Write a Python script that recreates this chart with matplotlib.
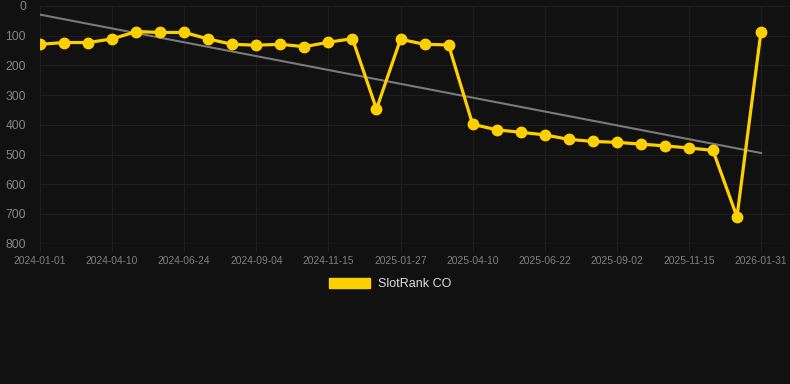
import matplotlib
matplotlib.use("Agg")
import matplotlib.pyplot as plt
from matplotlib.patches import Patch
import numpy as np

plt.rcParams['font.family'] = ['Liberation Sans', 'DejaVu Sans']

ranks = [129, 123, 123, 111, 86, 89, 89, 111, 129, 132,
         129, 137, 122, 110, 347, 112, 129, 131, 398, 417,
         425, 434, 449, 456, 459, 465, 471, 478, 486, 710, 86]
tick_labels = ["2024-01-01", "2024-04-10", "2024-06-24", "2024-09-04",
               "2024-11-15", "2025-01-27", "2025-04-10", "2025-06-22",
               "2025-09-02", "2025-11-15", "2026-01-31"]
trend_ends = [29, 495]
series_name = "SlotRank CO"
y_ticks = [0, 100, 200, 300, 400, 500, 600, 700, 800]

W, H = 790, 384
bg = "#111111"
grid_c = "#1e1e1e"
gold = "#FFD000"

fig = plt.figure(figsize=(W / 100, H / 100), dpi=100, facecolor=bg)
left, right_px, top_px, bot_px = 40, 790, 6, 243.6
ax = fig.add_axes([left / W, 1 - bot_px / H, (right_px - left) / W, (bot_px - top_px) / H])
ax.set_facecolor(bg)

x = np.arange(len(ranks))
n = len(ranks) - 1
ax.set_xlim(0, n * (right_px - left) / (761 - left))
ax.set_ylim(800, 0)

ax.plot([0, n], trend_ends, color="#7a7a7a", lw=1.5, zorder=2)
ax.plot(x, ranks, color=gold, lw=2.3, marker="o", markersize=7.5, zorder=3)

xt = x[::3]
ax.set_xticks(xt)
ax.set_xticklabels(tick_labels, fontsize=7.4, color="#7f7f7f")
ax.set_yticks(y_ticks)
ax.set_yticklabels([str(v) for v in y_ticks], fontsize=8.8, color="#858585")
ax.tick_params(axis='x', length=6, color=grid_c, pad=3)
ax.tick_params(axis='y', length=0, pad=10)
ax.grid(True, color=grid_c, lw=0.8)
ax.set_axisbelow(True)
for s in ax.spines.values():
    s.set_visible(False)
ax.axhline(800, color="#2a2a2a", lw=1, zorder=1)

handle = Patch(facecolor=gold, edgecolor=gold, label=series_name)
leg = fig.legend(handles=[handle], loc="center", bbox_to_anchor=(390 / W, 1 - 284 / H),
                 frameon=False, fontsize=9, handlelength=3.3, handleheight=0.9,
                 handletextpad=0.6, labelcolor="#dddddd")

fig.savefig("out.png", dpi=100, facecolor=bg)
